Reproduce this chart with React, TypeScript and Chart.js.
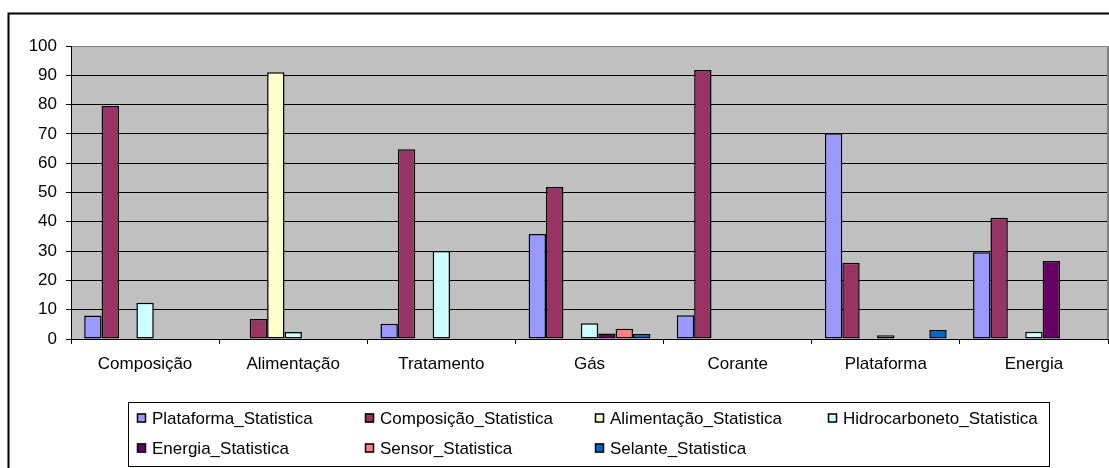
import React, { useEffect, useRef } from "react";
import { Chart, registerables } from "chart.js";

Chart.register(...registerables);

const categories = ["Composição", "Alimentação", "Tratamento", "Gás", "Corante", "Plataforma", "Energia"];
const yTicks = [0, 10, 20, 30, 40, 50, 60, 70, 80, 90, 100];

const plataformaStat = [8, null, 5.2, 35.8, 8.1, 70.2, 29.6];
const composicaoStat = [79.5, 6.8, 64.8, 51.9, 91.8, 26, 41.4];
const alimentacaoStat = [null, 91, null, null, null, null, null];
const hidrocarbonetoStat = [12.4, 2.4, 30, 5.4, null, 1.3, 2.5];
const energiaStat = [null, null, null, 1.9, null, null, 26.6];
const sensorStat = [null, null, null, 3.5, null, null, null];
const selanteStat = [null, null, null, 1.7, null, 3.1, null];

const seriesNames = [
  "Plataforma_Statistica",
  "Composição_Statistica",
  "Alimentação_Statistica",
  "Hidrocarboneto_Statistica",
  "Energia_Statistica",
  "Sensor_Statistica",
  "Selante_Statistica",
];
const seriesValues = [plataformaStat, composicaoStat, alimentacaoStat, hidrocarbonetoStat, energiaStat, sensorStat, selanteStat];
const seriesColors = ["#9999FF", "#993366", "#FFFFCC", "#CCFFFF", "#660066", "#FF8080", "#0066CC"];

const FONT = "'Liberation Sans', Arial, sans-serif";

const framePlugin = {
  id: "frame",
  beforeDraw(chart: any) {
    const { ctx, chartArea } = chart;
    ctx.save();
    ctx.fillStyle = "#FFFFFF";
    ctx.fillRect(0, 0, chart.width, chart.height);
    ctx.strokeStyle = "#000";
    ctx.lineWidth = 2;
    ctx.strokeRect(8.5, 13.5, chart.width + 20, chart.height + 20);
    ctx.fillStyle = "#C0C0C0";
    ctx.fillRect(chartArea.left, chartArea.top, chartArea.right - chartArea.left, chartArea.bottom - chartArea.top);
    ctx.restore();
  },
  afterDraw(chart: any) {
    const { ctx, chartArea } = chart;
    ctx.save();
    ctx.strokeStyle = "#808080";
    ctx.lineWidth = 2;
    ctx.beginPath();
    ctx.moveTo(chartArea.right, chartArea.top);
    ctx.lineTo(chartArea.right, chartArea.bottom);
    ctx.stroke();

    const boxL = 128.5, boxT = 402.5, boxR = 1049.5, boxB = 466.5;
    ctx.fillStyle = "#FFFFFF";
    ctx.fillRect(boxL, boxT, boxR - boxL, boxB - boxT);
    ctx.strokeStyle = "#000";
    ctx.lineWidth = 1;
    ctx.strokeRect(boxL, boxT, boxR - boxL, boxB - boxT);
    const colX = [137, 365, 595, 828];
    const rowY = [418, 448];
    ctx.font = `17px ${FONT}`;
    ctx.textBaseline = "middle";
    ctx.textAlign = "left";
    chart.data.datasets.forEach((ds: any, i: number) => {
      const x = colX[i % 4];
      const y = rowY[Math.floor(i / 4)];
      ctx.fillStyle = ds.backgroundColor;
      ctx.fillRect(x, y - 4.5, 9, 9);
      ctx.strokeStyle = "#000";
      ctx.lineWidth = 1.5;
      ctx.strokeRect(x + 0.5, y - 4, 8, 8);
      ctx.fillStyle = "#000";
      ctx.fillText(ds.label, x + 15, y + 1);
    });
    ctx.restore();
  },
};

export default function App() {
  const ref = useRef<HTMLCanvasElement>(null);
  useEffect(() => {
    if (!ref.current) return;
    const chart = new Chart(ref.current, {
      type: "bar",
      data: {
        labels: categories,
        datasets: seriesNames.map((name, i) => ({
          label: name,
          data: seriesValues[i],
          backgroundColor: seriesColors[i],
          borderColor: "#000",
          borderWidth: 1.5,
          borderSkipped: false,
          inflateAmount: 0,
          categoryPercentage: 0.822,
          barPercentage: 1,
        })),
      },
      options: {
        responsive: false,
        animation: false,
        events: [],
        layout: { padding: { top: 46, right: 1, left: 0, bottom: 0 } },
        plugins: {
          legend: { display: false },
          tooltip: { enabled: false },
          title: { display: false },
        },
        scales: {
          x: {
            afterFit: (s: any) => {
              s.height = 129;
            },
            grid: {
              display: true,
              drawOnChartArea: false,
              drawTicks: true,
              tickLength: 5,
              color: "#000",
              offset: true,
            },
            border: { display: true, color: "#000", width: 1 },
            ticks: {
              color: "#000",
              font: { family: FONT, size: 17 },
              padding: 10,
              maxRotation: 0,
              autoSkip: false,
            },
          },
          y: {
            min: 0,
            max: 100,
            afterFit: (s: any) => {
              s.width = 71;
            },
            afterBuildTicks: (s: any) => {
              s.ticks = yTicks.map((v) => ({ value: v }));
            },
            grid: {
              color: (c: any) => (c.tick && c.tick.value === 100 ? "#808080" : "#000"),
              tickColor: "#000",
              lineWidth: 1,
              drawTicks: true,
              tickLength: 5,
            },
            border: { display: true, color: "#000", width: 1 },
            ticks: {
              color: "#000",
              font: { family: FONT, size: 17 },
              padding: 9,
            },
          },
        },
      },
      plugins: [framePlugin],
    });
    return () => chart.destroy();
  }, []);
  return (
    <div style={{ position: "fixed", left: 0, top: 0, width: 1109, height: 468 }}>
      <canvas ref={ref} width={1109} height={468} style={{ display: "block", width: 1109, height: 468 }} />
    </div>
  );
}
